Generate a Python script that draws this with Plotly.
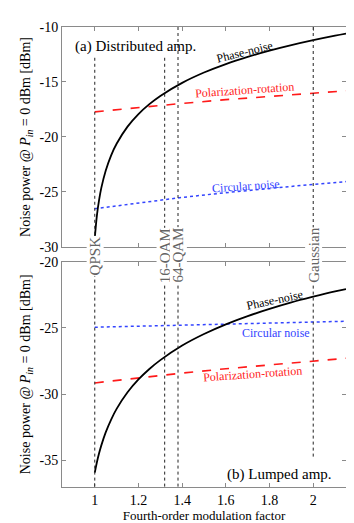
import plotly.graph_objects as go

# Data

x_phase = [1.0, 1.01, 1.02, 1.03, 1.05, 1.075, 1.1, 1.15, 1.2, 1.25, 1.3,
           1.4, 1.5, 1.6, 1.7, 1.8, 1.9, 2.0, 2.1, 2.15]
dist_phase = [-29.21, -27.11, -25.70, -24.63, -23.07, -21.67, -20.62, -19.06,
              -17.92, -17.02, -16.27, -15.08, -14.14, -13.37, -12.72, -12.15,
              -11.65, -11.20, -10.79, -10.60]
lump_phase = [-35.92, -35.11, -34.44, -33.86, -32.88, -31.91, -31.11, -29.86,
              -28.89, -28.10, -27.43, -26.33, -25.46, -24.73, -24.11, -23.57,
              -23.08, -22.65, -22.25, -22.07]

x_lin = [1.0, 1.2, 1.4, 1.6, 1.8, 2.0, 2.15]
dist_pol = [-17.72, -17.32, -16.95, -16.61, -16.30, -16.00, -15.80]
dist_circ = [-26.53, -25.99, -25.50, -25.07, -24.67, -24.31, -24.06]
lump_pol = [-29.15, -28.76, -28.41, -28.08, -27.78, -27.49, -27.29]
lump_circ = [-24.95, -24.87, -24.80, -24.72, -24.64, -24.55, -24.50]

formats = ["QPSK", "16-QAM", "64-QAM", "Gaussian"]
format_x = [1.0, 1.32, 1.381, 2.0]
line_top_start = [-12.8, -12.8, -10.0, -10.0]
line_bottom_end = [-37.0, -37.0, -37.0, -34.8]

x_ticks = [1, 1.2, 1.4, 1.6, 1.8, 2]
x_ticktext = ["1", "1.2", "1.4", "1.6", "1.8", "2"]
top_ticks = [-30, -25, -20, -15, -10]
top_ticktext = ["-30", "-25", "-20", "-15", "-10"]
bot_ticks = [-35, -30, -25, -20]
bot_ticktext = ["-35", "-30", "-25", "-20"]

SERIF = "Liberation Serif, Times New Roman, serif"
AXIS_GRAY = "#8a8a8a"
RED = "#ff1a1a"
BLUE = "#3344ff"
Y_TITLE = "Noise power @ <i>P</i><sub><i>in</i></sub> = 0 dBm [dBm]"

fig = go.Figure()

# top panel: distributed amplification
fig.add_trace(go.Scatter(x=x_lin, y=dist_pol, mode="lines",
                         line=dict(color=RED, width=1.6, dash="dash"),
                         xaxis="x", yaxis="y"))
fig.add_trace(go.Scatter(x=x_lin, y=dist_circ, mode="lines",
                         line=dict(color=BLUE, width=1.5, dash="dot"),
                         xaxis="x", yaxis="y"))
fig.add_trace(go.Scatter(x=x_phase, y=dist_phase, mode="lines",
                         line=dict(color="black", width=1.8, shape="spline"),
                         xaxis="x", yaxis="y"))

# bottom panel: lumped amplification
fig.add_trace(go.Scatter(x=x_lin, y=lump_pol, mode="lines",
                         line=dict(color=RED, width=1.6, dash="dash"),
                         xaxis="x2", yaxis="y2"))
fig.add_trace(go.Scatter(x=x_lin, y=lump_circ, mode="lines",
                         line=dict(color=BLUE, width=1.5, dash="dot"),
                         xaxis="x2", yaxis="y2"))
fig.add_trace(go.Scatter(x=x_phase, y=lump_phase, mode="lines",
                         line=dict(color="black", width=1.8, shape="spline"),
                         xaxis="x2", yaxis="y2"))

# Vertical marker lines for modulation formats
TOP_DOM = [0.522, 1.0]
BOT_DOM = [0.0, 0.490]
vline = dict(color="#222222", width=1, dash="dot")
for fx, ys, ye in zip(format_x, line_top_start, line_bottom_end):
    fig.add_shape(type="line", xref="x", yref="y", x0=fx, x1=fx, y0=ys, y1=-30,
                  line=vline)
    fig.add_shape(type="line", xref="x", yref="paper", x0=fx, x1=fx,
                  y0=BOT_DOM[1], y1=TOP_DOM[0], line=vline)
    fig.add_shape(type="line", xref="x2", yref="y2", x0=fx, x1=fx, y0=-20, y1=ye,
                  line=vline)

for name, fx in zip(formats, format_x):
    fig.add_annotation(x=fx, xref="x", y=0.503, yref="paper", text=name,
                       textangle=-90, showarrow=False, bgcolor="white",
                       font=dict(family=SERIF, size=15, color="#646464"),
                       borderpad=0)

# Curve and panel labels
def label(text, x, y, ax, color, angle=0, size=12):
    fig.add_annotation(x=x, y=y, xref=ax[0], yref=ax[1], text=text,
                       textangle=angle, showarrow=False,
                       font=dict(family=SERIF, size=size, color=color))

label("(a) Distributed amp.", 1.186, -11.77, ("x", "y"), "black", size=15)
label("Phase-noise", 1.684, -12.3, ("x", "y"), "black", angle=-14)
label("Polarization-rotation", 1.684, -15.75, ("x", "y"), RED, angle=-4)
label("Circular noise", 1.694, -24.5, ("x", "y"), BLUE, angle=-4)

label("Phase-noise", 1.822, -22.9, ("x2", "y2"), "black", angle=-12)
label("Circular noise", 1.831, -25.38, ("x2", "y2"), BLUE)
label("Polarization-rotation", 1.721, -28.48, ("x2", "y2"), RED, angle=-4)
label("(b) Lumped amp.", 1.844, -36.09, ("x2", "y2"), "black", size=15)

axis_common = dict(showgrid=False, zeroline=False, showline=True, mirror="ticks",
                   linecolor=AXIS_GRAY, linewidth=1, ticks="inside", ticklen=4,
                   tickcolor=AXIS_GRAY,
                   tickfont=dict(family=SERIF, size=14, color="black"))

fig.update_layout(
    width=354, height=523,
    paper_bgcolor="white", plot_bgcolor="white",
    showlegend=False,
    margin=dict(l=54, r=16, t=13, b=42),
    font=dict(family=SERIF, color="black"),
    xaxis=dict(domain=[0, 1], range=[0.85, 2.15], anchor="y",
               tickvals=x_ticks, ticktext=x_ticktext, showticklabels=False,
               **axis_common),
    yaxis=dict(domain=TOP_DOM, range=[-30, -10], anchor="x",
               tickvals=top_ticks, ticktext=top_ticktext,
               title=dict(text=Y_TITLE, font=dict(family=SERIF, size=14),
                          standoff=5),
               **axis_common),
    xaxis2=dict(domain=[0, 1], range=[0.85, 2.15], anchor="y2",
                tickvals=x_ticks, ticktext=x_ticktext,
                title=dict(text="Fourth-order modulation factor",
                           font=dict(family=SERIF, size=13), standoff=2),
                **axis_common),
    yaxis2=dict(domain=BOT_DOM, range=[-37, -20], anchor="x2",
                tickvals=bot_ticks, ticktext=bot_ticktext,
                title=dict(text=Y_TITLE, font=dict(family=SERIF, size=14),
                           standoff=5),
                **axis_common),
)

fig.write_html("out.html")
